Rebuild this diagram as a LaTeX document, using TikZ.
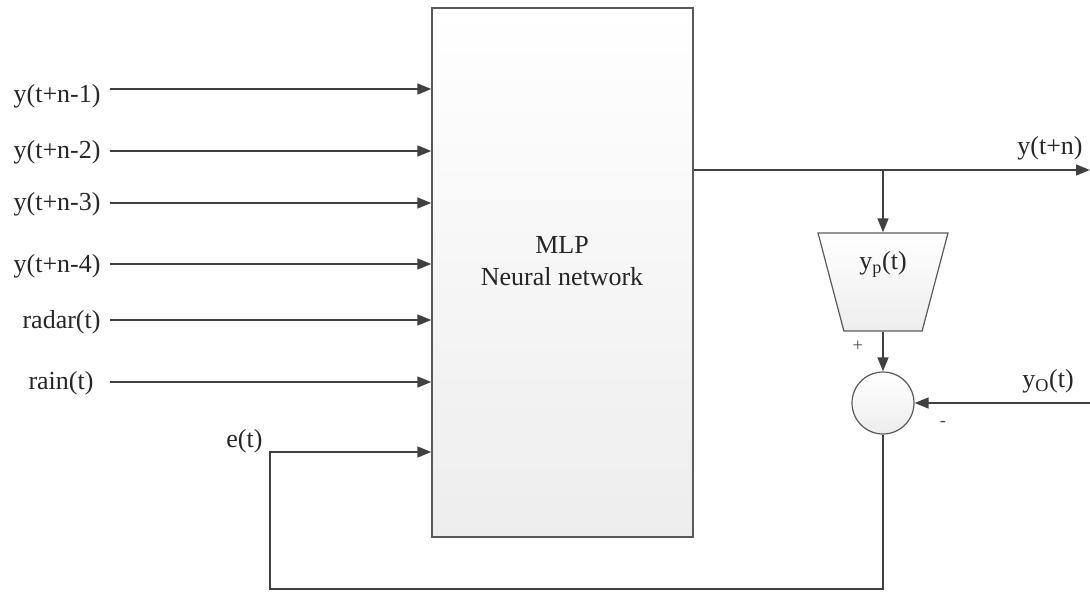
\documentclass[tikz,border=0pt]{standalone}
\usepackage{fontspec}
\setmainfont{Liberation Serif}
\usetikzlibrary{arrows.meta,shapes.geometric}

\tikzset{every picture/.style={line width=0.75pt}}
\definecolor{linegray}{RGB}{64,64,64}
\definecolor{boxgray}{RGB}{90,90,90}
\tikzset{
  sig/.style={draw=linegray, line width=1.8pt, -{Triangle[length=10.5pt,width=8pt]}},
  blockbox/.style={draw=boxgray, line width=0.9pt, top color=white, bottom color=black!7},
  txt/.style={font=\fontsize{19.5}{24}\selectfont, text=black!85, inner sep=0pt},
  sgn/.style={font=\fontsize{14}{16}\selectfont, text=black!70, inner sep=0pt}
}

\begin{document}
\begin{tikzpicture}[x=0.75pt,y=0.75pt,yscale=-1,xscale=1]
	\useasboundingbox (0,0) rectangle (1090,592);

	%Shape: MLP block
	\node [blockbox, minimum width=195.75pt, minimum height=396.75pt, inner sep=0pt] (mlp) at (562.5,272.5) {};
	\node [txt, align=center] (mlplbl) at (562,261) {MLP\\Neural network};
	%Shape: Trapezium
	\node [blockbox, trapezium, trapezium stretches=true, shape border rotate=180, trapezium left angle=71.7, trapezium right angle=71.7, minimum width=97.5pt, minimum height=73.5pt, inner sep=2pt] (yp) at (883,282) {};
	\node [txt] (yplbl) at (883,264) {y\textsubscript{p}(t)};
	%Shape: Circle
	\node [blockbox, circle, minimum size=46.5pt, inner sep=0pt] (sum) at (883,403) {};

	% Text Node
	\node [txt, anchor=east] (l1) at (101,96) {y(t+n-1)};
	\node [txt, anchor=east] (l2) at (101,152) {y(t+n-2)};
	\node [txt, anchor=east] (l3) at (101,204) {y(t+n-3)};
	\node [txt, anchor=east] (l4) at (101,266) {y(t+n-4)};
	\node [txt, anchor=east] (l5) at (101,322) {radar(t)};
	\node [txt, anchor=east] (l6) at (94,383) {rain(t)};
	\node [txt, anchor=east] (l7) at (263,441) {e(t)};
	\node [txt] (lout) at (1050,148) {y(t+n)};
	\node [txt] (lobs) at (1048,381) {y\textsubscript{O}(t)};
	\node [sgn] (plus) at (858,346) {+};
	\node [sgn] (minus) at (943,424) {-};

	%Straight Lines
	\coordinate (s1) at (110,89);
	\coordinate (s2) at (110,151);
	\coordinate (s3) at (110,203);
	\coordinate (s4) at (110,264);
	\coordinate (s5) at (110,320);
	\coordinate (s6) at (110,382);
	\coordinate (s7) at (270,452);
	\draw [sig] (s1) -- (s1 -| mlp.west);
	\draw [sig] (s2) -- (s2 -| mlp.west);
	\draw [sig] (s3) -- (s3 -| mlp.west);
	\draw [sig] (s4) -- (s4 -| mlp.west);
	\draw [sig] (s5) -- (s5 -| mlp.west);
	\draw [sig] (s6) -- (s6 -| mlp.west);

	%Output and feedback
	\coordinate (out) at (1090,170);
	\coordinate (obs) at (1090,403);
	\coordinate (fb) at (270,589);
	\draw [sig] (mlp.east |- out) -- (out);
	\draw [sig] (yp.north |- out) -- (yp.north);
	\draw [sig] (yp.south) -- (sum.north);
	\draw [sig] (obs) -- (sum.east);
	\draw [sig] (sum.south) |- (fb) |- (s7 -| mlp.west);

\end{tikzpicture}
\end{document}
